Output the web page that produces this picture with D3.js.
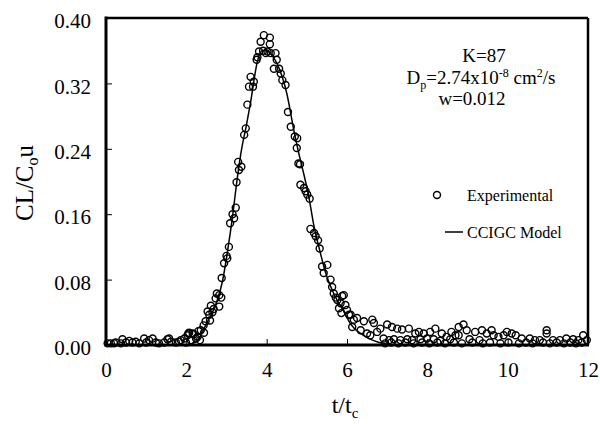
<!DOCTYPE html>
<html>
<head>
<meta charset="utf-8">
<script src="https://cdn.jsdelivr.net/npm/d3@7"></script>
<style>
    body { margin: 0; background: #fff; }
</style>
</head>
<body>
<svg id="chart"></svg>
<script>
// tick values
const xTicks = [0, 2, 4, 6, 8, 10, 12];
const yTicks = [0, 0.08, 0.16, 0.24, 0.32, 0.4];

// CCIGC model curve [t/tc, CL/Cou]
const modelT = [0, 1.0, 2.0, 2.2, 2.3, 2.5, 2.75, 2.9, 3.03, 3.15, 3.25, 3.36, 3.5, 3.6, 3.77, 3.88, 4.0, 4.15, 4.27, 4.5, 4.68, 4.84, 4.93, 5.05, 5.18, 5.32, 5.47, 5.67, 5.92, 6.1, 6.4, 6.8, 7.2, 9.0, 12];
const modelV = [0, 0, 0, 0.003, 0.007, 0.026, 0.052, 0.078, 0.116, 0.157, 0.197, 0.235, 0.27, 0.297, 0.347, 0.36, 0.36, 0.353, 0.343, 0.308, 0.262, 0.226, 0.208, 0.181, 0.145, 0.116, 0.088, 0.063, 0.041, 0.025, 0.012, 0.003, 0, 0, 0];

// experimental points [t/tc, CL/Cou]
const expBase = [[0.04,0.002],[0.12,0.002],[0.2,0.002],[0.24,0.003],[0.37,0.002],[0.41,0.007],[0.5,0.003],[0.58,0.005],[0.66,0.003],[0.74,0.004],[0.83,0.002],[0.95,0.008],[1.0,0.003],[1.07,0.006],[1.16,0.008],[1.24,0.003],[1.32,0.002],[1.45,0.003],[1.53,0.007],[1.57,0.008],[1.62,0.004],[1.74,0.003],[1.82,0.004],[1.86,0.006],[1.95,0.008],[1.99,0.003],[2.03,0.012],[2.05,0.014],[2.07,0.015],[2.11,0.006],[2.16,0.014],[2.19,0.013]];
const expRise = [[2.24,0.008],[2.28,0.010],[2.3,0.017],[2.34,0.006],[2.36,0.018],[2.43,0.024],[2.44,0.015],[2.48,0.029],[2.53,0.041],[2.57,0.037],[2.59,0.030],[2.61,0.048],[2.65,0.040],[2.68,0.044],[2.73,0.057],[2.76,0.063],[2.82,0.061],[2.82,0.047],[2.87,0.058],[2.88,0.082],[2.94,0.100],[3.0,0.109],[3.02,0.106],[3.06,0.120],[3.09,0.149],[3.15,0.160],[3.19,0.155],[3.23,0.168],[3.25,0.199],[3.29,0.224],[3.31,0.214],[3.37,0.218],[3.44,0.257],[3.48,0.265],[3.52,0.294]];
const expPeak = [[3.56,0.316],[3.6,0.328],[3.66,0.316],[3.68,0.322],[3.75,0.349],[3.77,0.352],[3.81,0.359],[3.85,0.371],[3.93,0.379],[3.91,0.36],[3.98,0.357],[4.02,0.359],[4.08,0.376],[4.08,0.368],[4.1,0.357],[4.22,0.357],[4.25,0.349],[4.18,0.338],[4.31,0.338],[4.35,0.332],[4.39,0.324],[4.47,0.318],[4.53,0.285],[4.6,0.267],[4.7,0.255],[4.76,0.253],[4.75,0.241],[4.79,0.222],[4.83,0.221]];
const expFall = [[4.84,0.196],[4.93,0.192],[4.97,0.188],[5.01,0.184],[5.07,0.179],[5.09,0.142],[5.18,0.137],[5.22,0.133],[5.28,0.128],[5.32,0.118],[5.38,0.096],[5.51,0.098],[5.42,0.088],[5.59,0.080],[5.63,0.071],[5.67,0.063],[5.72,0.058],[5.76,0.055],[5.8,0.045],[5.84,0.051],[5.86,0.039],[5.88,0.060],[5.92,0.061],[5.96,0.049],[6.0,0.043],[6.05,0.037]];
const expTail = [[6.09,0.037],[6.13,0.022],[6.17,0.031],[6.25,0.033],[6.34,0.018],[6.42,0.029],[6.5,0.014],[6.58,0.012],[6.63,0.031],[6.67,0.027],[6.75,0.016],[6.83,0.020],[6.91,0.008],[7.0,0.025],[7.05,0.006],[7.12,0.022],[7.17,0.007],[7.25,0.020],[7.33,0.006],[7.37,0.019],[7.5,0.007],[7.54,0.020],[7.62,0.006],[7.7,0.014],[7.79,0.016],[7.83,0.007],[7.91,0.014],[7.99,0.008],[8.07,0.016],[8.16,0.007],[8.2,0.020],[8.32,0.005],[8.36,0.014],[8.48,0.010],[8.57,0.007],[8.6,0.016],[8.7,0.012],[8.78,0.022],[8.78,0.012],[8.9,0.025],[8.98,0.018],[9.05,0.007],[9.19,0.016],[9.3,0.006],[9.36,0.018],[9.48,0.014],[9.6,0.018],[9.65,0.012],[9.77,0.010],[9.9,0.012],[9.98,0.016],[10.1,0.014],[10.2,0.012],[10.35,0.008],[10.55,0.008],[10.68,0.006],[10.8,0.006],[10.97,0.018],[10.97,0.014],[11.13,0.006],[11.3,0.006],[11.46,0.008],[11.63,0.007],[11.76,0.006],[11.88,0.012],[11.97,0.006]];
const expFloor = [[6.95,0.002],[7.1,0.003],[7.28,0.002],[7.45,0.003],[7.66,0.002],[7.87,0.003],[8.05,0.002],[8.25,0.003],[8.44,0.002],[8.66,0.003],[8.86,0.002],[9.12,0.003],[9.38,0.002],[9.56,0.003],[9.82,0.002],[10.02,0.003],[10.28,0.002],[10.46,0.003],[10.62,0.002],[10.88,0.003],[11.05,0.002],[11.22,0.003],[11.4,0.002],[11.56,0.003],[11.7,0.002],[11.84,0.003]];

const experimental = [...expBase, ...expRise, ...expPeak, ...expFall, ...expTail, ...expFloor];
const model = modelT.map((t, i) => [t, modelV[i]]);

const serif = "'Liberation Serif', 'Times New Roman', 'DejaVu Serif', serif";
const width = 600, height = 424;
const svg = d3.select('#chart').attr('width', width).attr('height', height).style('font-family', serif);

const x = d3.scaleLinear().domain([0, 12]).range([106, 588]);
const y = d3.scaleLinear().domain([0, 0.4]).range([345, 18]);

// model line
svg.append('path')
    .datum(model)
    .attr('fill', 'none')
    .attr('stroke', '#000')
    .attr('stroke-width', 1.5)
    .attr('d', d3.line().x((d) => x(d[0])).y((d) => y(d[1])).curve(d3.curveMonotoneX));

// experimental circles
svg.append('g')
    .selectAll('circle')
    .data(experimental)
    .join('circle')
    .attr('cx', (d) => x(d[0]))
    .attr('cy', (d) => y(d[1]))
    .attr('r', 3.5)
    .attr('fill', 'none')
    .attr('stroke', '#000')
    .attr('stroke-width', 1.4);

// axes, ticks pointing inward
const xAxis = svg.append('g')
    .attr('transform', `translate(0,${y(0)})`)
    .call(d3.axisBottom(x).tickValues(xTicks).tickSize(-6).tickPadding(17).tickFormat(d3.format('d')));
const yAxis = svg.append('g')
    .attr('transform', `translate(${x(0)},0)`)
    .call(d3.axisLeft(y).tickValues(yTicks).tickSize(-6).tickPadding(15).tickFormat(d3.format('.2f')));
[xAxis, yAxis].forEach((g) => {
    g.attr('font-family', null);
    g.select('.domain').remove();
    g.selectAll('.tick line').attr('stroke', '#000').attr('stroke-width', 1);
    g.selectAll('.tick text').style('font-family', serif).attr('font-size', 21).attr('fill', '#000');
});
yAxis.selectAll('.tick text').attr('dy', '0.46em');

// frame
const frame = svg.append('g').attr('stroke', '#000').attr('fill', 'none');
frame.append('line').attr('x1', x(0)).attr('x2', x(12)).attr('y1', y(0.4)).attr('y2', y(0.4)).attr('stroke-width', 2.5);
frame.append('line').attr('x1', x(12)).attr('x2', x(12)).attr('y1', y(0.4)).attr('y2', y(0)).attr('stroke-width', 2.5);
frame.append('line').attr('x1', x(0)).attr('x2', x(0)).attr('y1', y(0.4) - 1.5).attr('y2', y(0) + 1.5).attr('stroke-width', 3);
frame.append('line').attr('x1', x(0)).attr('x2', x(12) + 1).attr('y1', y(0)).attr('y2', y(0)).attr('stroke-width', 3);

// axis titles
const xt = svg.append('text').attr('x', 345).attr('y', 413).attr('text-anchor', 'middle').attr('font-size', 24).style('font-family', serif);
xt.append('tspan').text('t/t');
xt.append('tspan').attr('font-size', 15).attr('dy', 5).text('c');

const yt = svg.append('text').attr('transform', 'translate(33,183) rotate(-90)').attr('text-anchor', 'middle').attr('font-size', 25).style('font-family', serif);
yt.append('tspan').text('CL/C');
yt.append('tspan').attr('font-size', 16).attr('dy', 5).text('o');
yt.append('tspan').attr('dy', -5).text('u');

// parameter annotation
const note = svg.append('g').attr('font-size', 19).attr('text-anchor', 'middle').style('font-family', serif);
note.append('text').attr('x', 484).attr('y', 62).text('K=87');
const dp = note.append('text').attr('x', 481).attr('y', 84);
dp.append('tspan').text('D');
dp.append('tspan').attr('font-size', 12).attr('dy', 5).text('p');
dp.append('tspan').attr('dy', -5).text('=2.74x10');
dp.append('tspan').attr('font-size', 12).attr('dy', -7).text('-8');
dp.append('tspan').attr('dy', 7).text(' cm');
dp.append('tspan').attr('font-size', 12).attr('dy', -7).text('2');
dp.append('tspan').attr('dy', 7).text('/s');
note.append('text').attr('x', 472).attr('y', 105).text('w=0.012');

// legend
const legend = svg.append('g').attr('font-size', 16).style('font-family', serif);
legend.append('circle').attr('cx', 437).attr('cy', 195).attr('r', 3.5).attr('fill', 'none').attr('stroke', '#000').attr('stroke-width', 1.4);
legend.append('text').attr('x', 467).attr('y', 201).text('Experimental');
legend.append('line').attr('x1', 445).attr('x2', 463).attr('y1', 232).attr('y2', 232).attr('stroke', '#000').attr('stroke-width', 1.5);
legend.append('text').attr('x', 467).attr('y', 238).text('CCIGC Model');
</script>
</body>
</html>
